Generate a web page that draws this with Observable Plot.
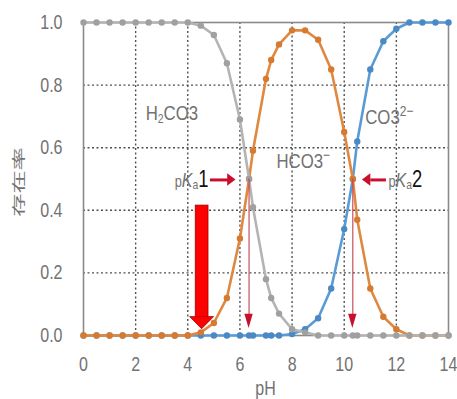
<!DOCTYPE html>
<html>
<head>
<meta charset="utf-8">
<script src="https://cdn.jsdelivr.net/npm/d3@7"></script>
<script src="https://cdn.jsdelivr.net/npm/@observablehq/plot@0.6"></script>
<style>
  html, body { margin: 0; padding: 0; background: #fff; }
  #chart svg { display: block; }
</style>
</head>
<body>
<div id="chart"></div>
<script>
// ---- data ----
const pH     = [0,0.5,1,1.5,2,2.5,3,3.5,4,4.5,5,5.5,6,6.35,6.5,7,7.2,7.5,8,8.5,9,9.5,10,10.33,10.5,11,11.5,12,12.5,13,13.5,14];
const h2co3  = [1,1,1,1,1,1,1,1,1,0.99,0.96,0.87,0.69,0.50,0.41,0.18,0.12,0.07,0.02,0.01,0,0,0,0,0,0,0,0,0,0,0,0];
const hco3   = [0,0,0,0,0,0,0,0,0,0.01,0.04,0.12,0.31,0.50,0.59,0.82,0.88,0.93,0.975,0.975,0.945,0.85,0.65,0.50,0.37,0.15,0.06,0.02,0,0,0,0];
const co3    = [0,0,0,0,0,0,0,0,0,0,0,0,0,0,0,0,0,0,0.005,0.02,0.055,0.15,0.34,0.50,0.62,0.85,0.94,0.98,1,1,1,1];

const xTicks = [0,2,4,6,8,10,12,14];
const yTicks = [0,0.2,0.4,0.6,0.8,1.0];
const xGrid  = [2,4,6,8,10,12];
const yGrid  = [0.2,0.4,0.6,0.8];

const pKa = [6.35, 10.33];           // thin red markers down to the axis
const pKaArrowsTail = [4.85, 11.6];  // horizontal red arrows (tail x)
const pKaArrowsTip  = [5.85, 10.7];  // horizontal red arrows (tip x)
const pKaArrowY = 0.497;
const bigArrowX = 4.55, bigArrowTop = 0.415, bigArrowHead = 0.058, bigArrowTip = 0.02;

const speciesLabels = [
  {name: "H2CO3", x: 3.41, y: 0.712},
  {name: "HCO3-", x: 8.45, y: 0.56},
  {name: "CO32-", x: 11.75, y: 0.70}
];

// ---- build tables ----
const data = pH.map((x, i) => ({pH: x, h2co3: h2co3[i], hco3: hco3[i], co3: co3[i]}));

const GRAY = "#b4b4b4", GRAYDOT = "#a0a0a0";
const ORANGE = "#e08840", ORANGEDOT = "#d57a30";
const BLUE = "#5b9bd5", BLUEDOT = "#4a89c4";
const TXT = "#727272";
const FONT = '"Liberation Sans",Arial,sans-serif';
const NARROW = 0.8;

const thinHeads = pKa.flatMap((p, i) => [
  {k: i, y: 0.068, x1: p - 0.16, x2: p + 0.16},
  {k: i, y: 0.022, x1: p, x2: p}
]);
const hHeads = pKaArrowsTip.flatMap((t, i) => {
  const dir = Math.sign(t - pKaArrowsTail[i]);
  const base = t - dir * 0.32;
  return [
    {k: i, x: base, y1: pKaArrowY - 0.02, y2: pKaArrowY + 0.02},
    {k: i, x: t, y1: pKaArrowY, y2: pKaArrowY}
  ];
});
const hShafts = pKaArrowsTail.map((t, i) => ({x1: t, x2: pKaArrowsTip[i] - Math.sign(pKaArrowsTip[i] - t) * 0.3, y: pKaArrowY}));
const bigHead = [
  {y: bigArrowHead, x1: bigArrowX - 0.45, x2: bigArrowX + 0.45},
  {y: bigArrowTip, x1: bigArrowX, x2: bigArrowX}
];

const chart = Plot.plot({
  width: 457,
  height: 399,
  marginLeft: 83,
  marginRight: 9,
  marginTop: 22,
  marginBottom: 64,
  style: {fontFamily: FONT, background: "#fff"},
  x: {domain: [0, 14]},
  y: {domain: [0, 1]},
  marks: [
    Plot.gridX(xGrid, {stroke: "#505050", strokeOpacity: 1, strokeWidth: 1.4, strokeDasharray: "2,2.5"}),
    Plot.gridY(yGrid, {stroke: "#505050", strokeOpacity: 1, strokeWidth: 1.4, strokeDasharray: "2,2.5"}),
    Plot.frame({stroke: "#8a8a8a", strokeWidth: 1.6}),
    Plot.axisX(xTicks, {tickSize: 0, tickPadding: 21, fontSize: 20, fill: TXT, label: null}),
    Plot.axisY(yTicks, {tickSize: 0, tickPadding: 21, fontSize: 20, fill: TXT, label: null, tickFormat: d3.format(".1f")}),
    // blue CO3 2-
    Plot.line(data, {x: "pH", y: "co3", stroke: BLUE, strokeWidth: 2.6}),
    Plot.dot(data, {x: "pH", y: "co3", fill: BLUEDOT, r: 3.2}),
    // orange HCO3-
    Plot.line(data, {x: "pH", y: "hco3", stroke: ORANGE, strokeWidth: 2.6}),
    Plot.dot(data, {x: "pH", y: "hco3", fill: ORANGEDOT, r: 3.2}),
    // gray H2CO3
    Plot.line(data, {x: "pH", y: "h2co3", stroke: GRAY, strokeWidth: 2.6}),
    Plot.dot(data, {x: "pH", y: "h2co3", fill: GRAYDOT, r: 3.2}),
    // thin red pKa markers
    Plot.ruleX(pKa, {x: d => d, y1: 0.06, y2: 0.5, stroke: "#c04050", strokeWidth: 1.1}),
    Plot.areaX(thinHeads, {y: "y", x1: "x1", x2: "x2", z: "k", fill: "#c8102e"}),
    // horizontal red arrows
    Plot.link(hShafts, {x1: "x1", x2: "x2", y1: "y", y2: "y", stroke: "#c8102e", strokeWidth: 3}),
    Plot.areaY(hHeads, {x: "x", y1: "y1", y2: "y2", z: "k", fill: "#c8102e"}),
    // big red arrow
    Plot.rect([0], {x1: bigArrowX - 0.245, x2: bigArrowX + 0.245, y1: bigArrowHead - 0.003, y2: bigArrowTop, fill: "#ff0000", stroke: "#a00000", strokeWidth: 0.8}),
    Plot.areaX(bigHead, {y: "y", x1: "x1", x2: "x2", fill: "#ff0000", stroke: "#a00000", strokeWidth: 0.8})
  ]
});

document.getElementById("chart").appendChild(chart);

const svg = d3.select(chart);
// narrow the tick labels horizontally (reference uses a condensed face)
svg.selectAll("g[aria-label$='tick label'] text").each(function () {
  const tr = this.getAttribute("transform") || "";
  this.setAttribute("transform", tr + ` scale(${NARROW},1)`);
});

// ---- text annotations with sub/superscripts ----
const sx = chart.scale("x"), sy = chart.scale("y");

function addText(x, y, parts, anchor) {
  const t = svg.append("text")
    .attr("transform", `translate(${x},${y}) scale(${NARROW},1)`)
    .attr("text-anchor", anchor || "middle")
    .attr("font-family", FONT)
    .attr("fill", TXT)
    .attr("font-size", 21);
  parts.forEach(p => {
    const ts = t.append("tspan").text(p.t);
    if (p.size) ts.attr("font-size", p.size);
    if (p.dy) ts.attr("dy", p.dy);
    if (p.fill) ts.attr("fill", p.fill);
    if (p.style) ts.attr("font-style", p.style);
    if (p.family) ts.attr("font-family", p.family);
  });
  return t;
}

const L = speciesLabels;
addText(sx.apply(L[0].x), sy.apply(L[0].y) + 8, [
  {t: "H"}, {t: "2", size: 13, dy: 3}, {t: "CO3", dy: -3}
]);
addText(sx.apply(L[1].x), sy.apply(L[1].y) + 8, [
  {t: "HCO3"}, {t: "\u2212", size: 15, dy: -8}
]);
addText(sx.apply(L[2].x), sy.apply(L[2].y) + 8, [
  {t: "CO3"}, {t: "2\u2212", size: 15, dy: -8}
]);

// pKa labels
const pkaParts = n => [
  {t: "p", size: 16},
  {t: "K", size: 20, style: "italic"},
  {t: "a", size: 13, dy: 2},
  {t: n, size: 23, dy: -2, fill: "#111"}
];
addText(sx.apply(pKaArrowsTail[0]) - 1, sy.apply(pKaArrowY) + 8, pkaParts("1"), "end");
addText(sx.apply(pKaArrowsTail[1]) + 3, sy.apply(pKaArrowY) + 8, pkaParts("2"), "start");

// axis titles
addText(sx.apply(7), 395, [{t: "pH", size: 20}]);
svg.append("text")
  .attr("transform", `translate(${19},${182}) rotate(-90) scale(1.45,0.8)`)
  .attr("text-anchor", "middle")
  .attr("dy", "0.35em")
  .attr("font-family", '"Noto Sans CJK JP","Noto Sans CJK SC",sans-serif')
  .attr("font-size", 16)
  .attr("fill", TXT)
  .text("存在率");
</script>
</body>
</html>
